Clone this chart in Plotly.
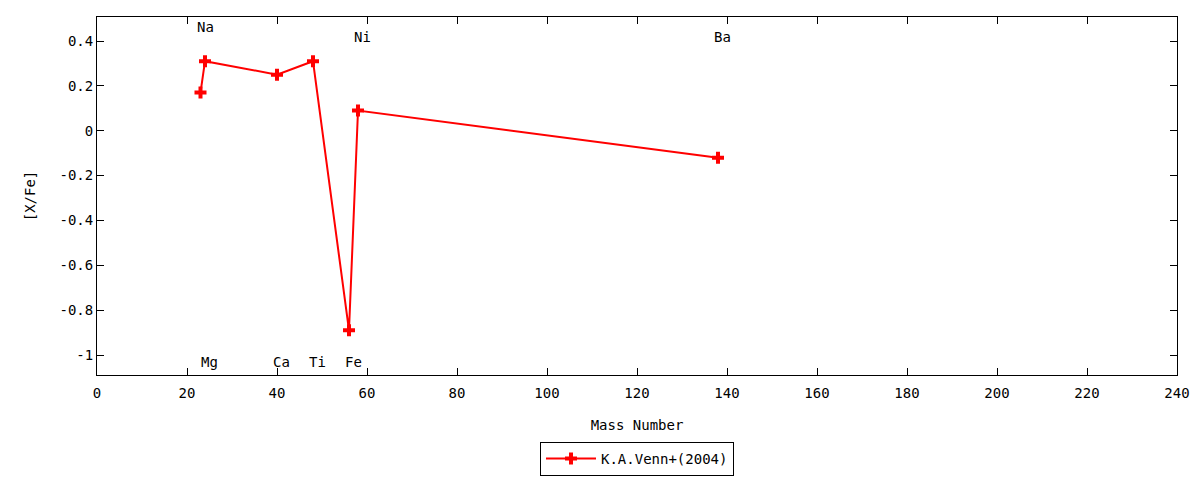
import plotly.graph_objects as go

elements = ["Na", "Mg", "Ca", "Ti", "Fe", "Ni", "Ba"]
mass = [23, 24, 40, 48, 56, 58, 138]
x_fe = [0.17, 0.31, 0.25, 0.31, -0.89, 0.09, -0.12]
label_y = [0.463, -1.033, -1.033, -1.033, -1.033, 0.419, 0.419]
x_ticks = list(range(0, 241, 20))
y_ticks = [0.4, 0.2, 0, -0.2, -0.4, -0.6, -0.8, -1]
y_tick_text = ["0.4", "0.2", "0", "-0.2", "-0.4", "-0.6", "-0.8", "-1"]

FONT = "DejaVu Sans Mono"
FS = 14

fig = go.Figure()
fig.add_trace(go.Scatter(
    x=mass, y=x_fe, mode="lines+markers", name="K.A.Venn+(2004)",
    line=dict(color="#ff0000", width=2),
    marker=dict(symbol="cross", size=10, color="#ff0000"),
))

for el, m, ly in zip(elements, mass, label_y):
    fig.add_annotation(x=m + 1, y=ly, text=el, showarrow=False,
                       xanchor="center", yanchor="middle",
                       font=dict(family=FONT, size=FS, color="black"))

fig.update_layout(
    width=1200, height=480,
    margin=dict(l=97, r=23, t=17, b=105, autoexpand=False),
    paper_bgcolor="white", plot_bgcolor="white",
    font=dict(family=FONT, size=FS, color="black"),
    showlegend=True,
    legend=dict(x=0.5, xanchor="center", xref="paper",
                y=4 / 480, yanchor="bottom", yref="container",
                orientation="h", bordercolor="black", borderwidth=1,
                font=dict(family=FONT, size=FS), bgcolor="white",
                itemwidth=50),
    xaxis=dict(range=[0, 240], tickvals=x_ticks, showgrid=False, zeroline=False,
               showline=True, linecolor="black", linewidth=1, mirror="ticks",
               ticks="inside", ticklen=7, tickcolor="black",
               ticklabelstandoff=5,
               tickfont=dict(family=FONT, size=FS),
               title=dict(text="Mass Number", standoff=20,
                          font=dict(family=FONT, size=FS))),
    yaxis=dict(range=[-1.089, 0.507], tickvals=y_ticks, ticktext=y_tick_text,
               showgrid=False, zeroline=False,
               showline=True, linecolor="black", linewidth=1, mirror="ticks",
               ticks="inside", ticklen=7, tickcolor="black",
               tickfont=dict(family=FONT, size=FS),
               title=dict(text="[X/Fe]", standoff=20,
                          font=dict(family=FONT, size=FS))),
)

fig.write_html("out.html", config={"displayModeBar": False},
               post_script="document.body.style.margin='0';document.body.style.overflow='hidden';")
